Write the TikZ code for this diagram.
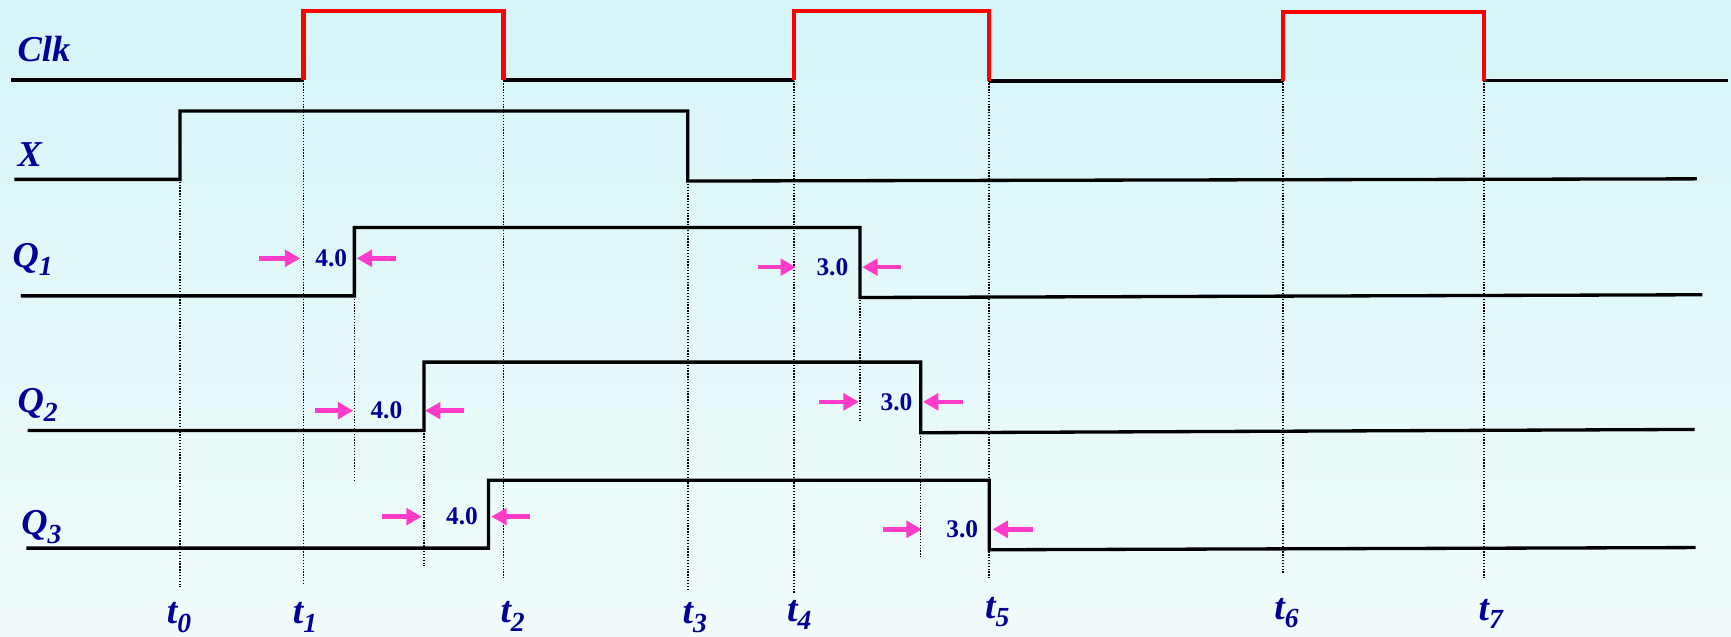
\documentclass[tikz,border=0pt]{standalone}
\usepackage{fontspec}
\setmainfont{Liberation Serif}
\usetikzlibrary{arrows.meta}
\definecolor{navy}{RGB}{0,0,150}
\definecolor{pinkarr}{RGB}{255,60,200}
\definecolor{bgtop}{RGB}{213,245,248}
\definecolor{bgbot}{RGB}{242,251,251}
\newcommand\lowsub[1]{\raisebox{-3.8pt}{\fontsize{12.5}{13}\selectfont #1}}
\tikzset{
  lab/.style={inner sep=0pt, anchor=base west, text=navy, font=\fontsize{16.5}{18}\selectfont\bfseries\itshape},
  tlab/.style={inner sep=0pt, anchor=base west, text=navy, font=\fontsize{17}{18}\selectfont\bfseries\itshape},
  dly/.style={inner sep=0pt, text=navy, font=\fontsize{11.5}{12}\selectfont\bfseries},
  sig/.style={line width=1.5pt, black, line join=miter},
  clkhi/.style={line width=1.9pt, red, line join=miter},
  guide/.style={line width=0.7pt, black, dash pattern=on 0.6pt off 0.7pt},
  pk/.style={draw=pinkarr, line width=2pt, -{Triangle[length=7pt,width=7.5pt]}}
}
\begin{document}
\begin{tikzpicture}[x=0.5pt,y=-0.5pt]
\shade[top color=bgtop, bottom color=bgbot] (0,0) rectangle (1568,577);
\useasboundingbox (0,0) rectangle (1568,577);

% guide lines
\draw[guide] (163,162) -- (163,532);
\draw[guide] (275,73) -- (275,530);
\draw[guide] (321,268) -- (321,435);
\draw[guide] (384,390) -- (384,513);
\draw[guide] (456,73) -- (456,525);
\draw[guide] (623,164) -- (623,534);
\draw[guide] (719,73) -- (719,537);
\draw[guide] (779,269) -- (779,381);
\draw[guide] (834,392) -- (834,505);
\draw[guide] (896,73) -- (896,524);
\draw[guide] (1162,73) -- (1162,519);
\draw[guide] (1344,73) -- (1344,523);

% Clk
\draw[sig] (10,72.5) -- (275,72.5);
\draw[sig] (456,72.5) -- (719,72.5);
\draw[sig] (896,73.5) -- (1162,73.5);
\draw[sig] (1344,73) -- (1565,73);
\draw[clkhi] (275,72.5) -- (275,10) -- (456,10) -- (456,72.5);
\draw[clkhi] (719,72.5) -- (719,10) -- (896,10) -- (896,73.5);
\draw[clkhi] (1162,73.5) -- (1162,11) -- (1344,11) -- (1344,73);

% X
\draw[sig] (13,162.5) -- (163,162.5) -- (163,100.5) -- (623,100.5) -- (623,164) -- (1537,162);
% Q1
\draw[sig] (19,268) -- (321,268) -- (321,206) -- (779,206) -- (779,269.5) -- (1542,267);
% Q2
\draw[sig] (25,390) -- (384,390) -- (384,328) -- (834,328) -- (834,392) -- (1535,389);
% Q3
\draw[sig] (24,496.5) -- (442.5,496.5) -- (442.5,435) -- (896,435) -- (896,498) -- (1536,496);

% signal labels
\node[lab] (lclk) at (15.6,56) {Clk};
\node[lab] (lx) at (15.6,151) {X};
\node[lab] (lq1) at (11,242) {Q\lowsub{1}};
\node[lab] (lq2) at (15.6,374) {Q\lowsub{2}};
\node[lab] (lq3) at (19,484.5) {Q\lowsub{3}};

% time labels
\node[tlab] (t0) at (150.8,565) {t\lowsub{0}};
\node[tlab] (t1) at (265,565) {t\lowsub{1}};
\node[tlab] (t2) at (453,564) {t\lowsub{2}};
\node[tlab] (t3) at (618,565) {t\lowsub{3}};
\node[tlab] (t4) at (712.7,563) {t\lowsub{4}};
\node[tlab] (t5) at (892,560) {t\lowsub{5}};
\node[tlab] (t6) at (1154,561) {t\lowsub{6}};
\node[tlab] (t7) at (1339,562) {t\lowsub{7}};

% delay markers
\node[dly] (d1) at (300,234) {4.0};
\coordinate (d1a) at (235,234); \coordinate (d1b) at (272,234);
\coordinate (d1c) at (359,234); \coordinate (d1d) at (323,234);
\draw[pk] (d1a) -- (d1b); \draw[pk] (d1c) -- (d1d);

\node[dly] (d2) at (350,372) {4.0};
\coordinate (d2a) at (285,372); \coordinate (d2b) at (320,372);
\coordinate (d2c) at (420,372); \coordinate (d2d) at (385,372);
\draw[pk] (d2a) -- (d2b); \draw[pk] (d2c) -- (d2d);

\node[dly] (d3) at (418.5,468) {4.0};
\coordinate (d3a) at (346,468); \coordinate (d3b) at (382,468);
\coordinate (d3c) at (480,468); \coordinate (d3d) at (445,468);
\draw[pk] (d3a) -- (d3b); \draw[pk] (d3c) -- (d3d);

\node[dly] (d4) at (754,242) {3.0};
\coordinate (d4a) at (687,242); \coordinate (d4b) at (721,242);
\coordinate (d4c) at (816,242); \coordinate (d4d) at (781,242);
\draw[pk] (d4a) -- (d4b); \draw[pk] (d4c) -- (d4d);

\node[dly] (d5) at (812,364) {3.0};
\coordinate (d5a) at (742,364); \coordinate (d5b) at (778,364);
\coordinate (d5c) at (872,364); \coordinate (d5d) at (836,364);
\draw[pk] (d5a) -- (d5b); \draw[pk] (d5c) -- (d5d);

\node[dly] (d6) at (871.6,479.5) {3.0};
\coordinate (d6a) at (800,479.5); \coordinate (d6b) at (835,479.5);
\coordinate (d6c) at (936,479.5); \coordinate (d6d) at (899,479.5);
\draw[pk] (d6a) -- (d6b); \draw[pk] (d6c) -- (d6d);
\end{tikzpicture}
\end{document}
